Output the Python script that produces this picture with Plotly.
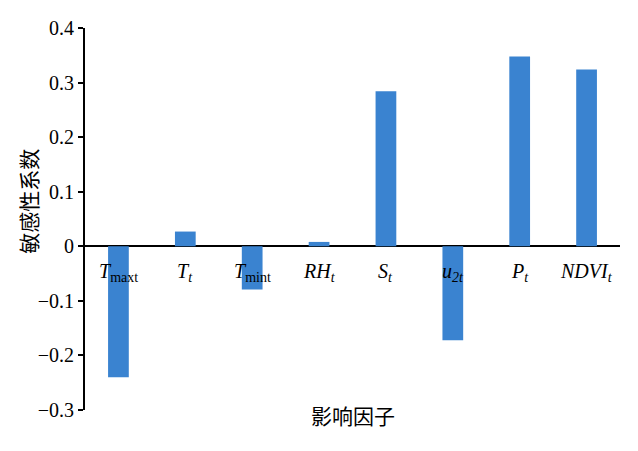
import plotly.graph_objects as go

categories = ["Tmaxt", "Tt", "Tmint", "RHt", "St", "u2t", "Pt", "NDVIt"]
tick_labels = ["<i>T</i><sub>maxt</sub>", "<i>T</i><sub><i>t</i></sub>", "<i>T</i><sub>mint</sub>",
               "<i>RH</i><sub><i>t</i></sub>", "<i>S</i><sub><i>t</i></sub>", "<i>u</i><sub><i>2t</i></sub>",
               "<i>P</i><sub><i>t</i></sub>", "<i>NDVI</i><sub><i>t</i></sub>"]
values = [-0.240, 0.027, -0.079, 0.008, 0.284, -0.172, 0.348, 0.324]
y_ticks = [-0.3, -0.2, -0.1, 0, 0.1, 0.2, 0.3, 0.4]

fig = go.Figure()
fig.add_trace(go.Bar(x=categories, y=values, marker_color="#3A83D0", marker_line_width=0, width=0.31))

serif = "Liberation Serif, Times New Roman, serif"
for c, t in zip(categories, tick_labels):
    fig.add_annotation(x=c, y=0, xref="x", yref="y", text=t, showarrow=False,
                       yanchor="top", yshift=-12, font=dict(family=serif, size=20, color="black"))

fig.add_annotation(x=0.5, y=-0.013, xref="paper", yref="paper", text="影响因子", showarrow=False,
                   xanchor="center", yanchor="middle", font=dict(family="Noto Sans CJK SC", size=21, color="black"))
fig.add_annotation(x=-0.1065, y=0.545, xref="paper", yref="paper", text="敏感性系数", showarrow=False,
                   textangle=-90, xanchor="center", yanchor="middle",
                   font=dict(family="Noto Sans CJK SC", size=21, color="black"))

fig.update_layout(
    width=638, height=451,
    margin=dict(l=85, r=18, t=28, b=41),
    paper_bgcolor="white", plot_bgcolor="white",
    showlegend=False,
    xaxis=dict(showticklabels=False, showline=False, showgrid=False, ticks="", zeroline=False,
               range=[-0.5, 7.5]),
    yaxis=dict(range=[-0.3, 0.4], tickvals=y_ticks,
               ticktext=[("−" if v < 0 else "") + (f"{abs(v):.1f}" if v != 0 else "0") for v in y_ticks],
               showline=True, linecolor="black", linewidth=2, ticks="outside", ticklen=5,
               tickwidth=2, tickcolor="black", showgrid=False,
               zeroline=True, zerolinecolor="black", zerolinewidth=1.5,
               tickfont=dict(family=serif, size=20, color="black")),
)

fig.write_html("out.html", config={"displayModeBar": False},
               post_script="document.body.style.margin='0';")
